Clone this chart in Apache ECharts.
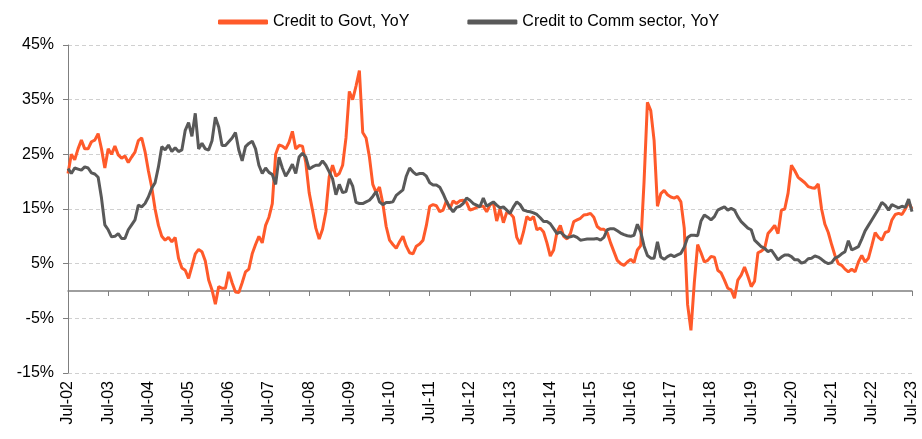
<!DOCTYPE html>
<html>
<head>
<meta charset="utf-8">
<script src="https://cdn.jsdelivr.net/npm/echarts@6/dist/echarts.min.js"></script>
<style>
* {
  margin: 0;
  padding: 0;
}
#chart {
  width: 922px;
  height: 439px;
  background: #fff;
}
</style>
</head>
<body>
<div id="chart"></div>
<script>
// monthly, Jul-02 .. Jul-23
var monthNames = ["Jan", "Feb", "Mar", "Apr", "May", "Jun", "Jul", "Aug", "Sep", "Oct", "Nov", "Dec"];
var startMonth = 6; // Jul
var startYear = 2;
var pointCount = 253;

var yTicks = [-15, -5, 5, 15, 25, 35, 45];

var govtYoY = [
  21.5, 25, 24, 26, 27.6, 26, 26, 27.3, 27.6, 28.8,
  26, 22.5, 26, 25, 26.5, 24.9, 24.3, 24.7, 23.5, 24.5,
  25.4, 27.5, 28, 25.5, 22, 19, 15, 12, 10, 9.3,
  9.8, 9.0, 9.8, 6, 4.2, 3.8, 2.3, 4.5, 6.8, 7.6,
  7.2, 5.5, 2, 0.2, -2.4, 0.8, 0.5, 0.5, 3.5, 1.5,
  -0.2, -0.3, 1.5, 3.5, 4, 6.8, 8.5, 10, 8.8, 12,
  13.5, 16, 25, 26.7, 26.5, 26, 27.2, 29.2, 26, 26.6,
  26.5, 23.5, 18, 14.8, 11.5, 9.5, 11.3, 14.5, 20.9, 23,
  21, 21.5, 23, 28, 36.5, 35, 37.5, 40.3, 29, 28,
  24.5, 19.5, 18, 19, 16, 11.8, 9.3, 8.5, 7.8, 9,
  10, 8.2, 7, 6.8, 8.2, 8.6, 9.3, 12, 15.5, 15.8,
  15.6, 14.5, 14.8, 16.5, 15, 16.5, 16, 16.5, 16.6, 16.2,
  14.8, 15, 15.3, 15.5, 15.5, 14.5, 15.7, 16.2, 12.8, 15,
  12.5, 14.4, 14.2, 13.5, 9.8, 8.6, 10.8, 13.6, 13, 13.6,
  11.2, 11.5, 10.8, 8.8, 6.4, 7.5, 10.8, 12, 10, 9.5,
  10.5, 12.7, 13, 13.3, 13.9, 14, 14.2, 13.5, 11.8, 11.3,
  11.3, 10.7, 8.8, 7.2, 5.6, 5, 4.7, 5.3, 5.8, 5.2,
  7.5, 8.3, 20, 34.5, 33, 27.5, 15.5, 17.8, 18.4, 17.6,
  17.2, 17, 17.3, 16.3, 11.5, -2.5, -7.2, 1.5, 8.5, 7,
  5.3, 5.6, 6.3, 6.2, 3.8, 3.3, 2, 0.5, 0.2, -1.3,
  2, 2.9, 4.4, 2.7, 0.8, 1.8, 7, 7.3, 7.8, 10.5,
  11.2, 12, 10.5, 14.8, 15, 17.9, 23, 22, 20.8, 20.3,
  19.8, 19.1, 18.9, 18.8, 19.6, 15, 12.2, 10.7, 8.5, 6.5,
  5, 4.7, 4, 3.5, 4, 3.5, 5.3, 6.5, 5.3, 6,
  8.3, 10.7, 9.8, 9.3, 10.7, 10.9, 13, 14, 14.2, 14,
  15, 16.2, 15
];

var commYoY = [
  22.4, 21.5, 22.5, 22.3, 22.1, 22.7, 22.5, 21.6, 21.4, 20.8,
  17, 12.1, 11.2, 9.9, 10, 10.5, 9.6, 9.6, 11.2, 12.1,
  13, 15.7, 15.4, 16, 17.2, 18.8, 19.8, 22.7, 26.4, 25.8,
  26.7, 25.5, 26.2, 25.5, 25.8, 29.4, 30.8, 28.3, 32.5, 26,
  27, 26, 25.8, 27.5, 31.8, 30, 26.6, 26.6, 27.3, 28,
  29, 25.8, 23.8, 26.4, 27, 27.4, 26, 23, 21.5, 22.5,
  21.7, 21.3, 19.5, 24.5, 22.5, 21, 22, 23.2, 21.5, 24.5,
  25.2, 24.5, 22.3, 22.7, 23, 23, 23.8, 23, 21.8, 20.5,
  17.6, 19.5, 18, 18.2, 20.5, 19.2, 16.2, 16, 16, 16.3,
  16.6, 17.3, 18.2, 16.3, 15.8, 16.2, 16.2, 16.3, 17.5, 18,
  18.5, 21, 22.5, 21.8, 21.3, 21.5, 21.5, 21, 19.8, 19.4,
  19.4, 19, 17.8, 16.4, 15.3, 14.5, 15.3, 15.5, 16, 17,
  16.6, 16, 15.7, 15.4, 17, 15.5, 15.9, 16.3, 15.7, 15.2,
  15.4, 14.8, 14.2, 15.4, 16.3, 15.8, 14.8, 14.6, 14.5, 14.3,
  14, 13.4, 12.7, 12.7, 12.3, 11.4, 10.5, 10.8, 10.2, 9.8,
  9.9, 10.1, 9.8, 9.3, 9.4, 9.5, 9.5, 9.5, 9.6, 9.3,
  9.8, 11.2, 11.4, 11.4, 11, 10.6, 10.3, 10.1, 10, 10.2,
  12.2, 10.8, 8.2, 6.5, 6, 6, 9, 6.2, 5.8, 6.3,
  6.6, 6.3, 6.6, 6.9, 8, 9.8, 10.2, 10.2, 10.1, 12.8,
  13.9, 13.5, 13, 13.6, 14.8, 15.1, 15.4, 14.8, 15.1, 14.8,
  13.6, 12.7, 12.1, 11.5, 11.2, 9.3, 8.7, 8.1, 7.8, 7.2,
  7.5, 6.6, 5.7, 6.2, 6.6, 6.6, 6.3, 5.7, 5.7, 5.1,
  5.3, 5.9, 6, 6.4, 6.2, 5.8, 5.3, 5, 5.2, 6,
  6.3, 6.8, 7.2, 9.2, 7.5, 7.8, 8.1, 9.5, 11, 12,
  13, 14, 15, 16.2, 15.7, 14.8, 15.8, 15.5, 15.2, 15.5,
  15.3, 16.8, 14.5
];

var categories = [];
for (var i = 0; i < pointCount; i++) {
  var m = (startMonth + i) % 12;
  var y = startYear + Math.floor((startMonth + i) / 12);
  categories.push(monthNames[m] + "-" + (y < 10 ? "0" + y : "" + y));
}

var font = "Liberation Sans, Arial, sans-serif";
var chart = echarts.init(document.getElementById("chart"));

chart.setOption({
  animation: false,
  textStyle: { fontFamily: font },
  legend: {
    left: 213,
    top: 9,
    itemGap: 58,
    itemWidth: 50,
    itemHeight: 5,
    icon: "roundRect",
    textStyle: { fontSize: 16, color: "#000", fontFamily: font },
    data: ["Credit to Govt, YoY", "Credit to Comm sector, YoY"]
  },
  grid: {
    left: 68,
    right: 10,
    top: 45,
    bottom: 66,
    containLabel: false
  },
  xAxis: [
    {
      type: "category",
      boundaryGap: false,
      data: categories,
      axisLine: { onZero: true, lineStyle: { color: "#7f7f7f", width: 1.5 } },
      axisTick: { show: true, interval: 11, length: 5, lineStyle: { color: "#7f7f7f" } },
      axisLabel: { show: false },
      splitLine: { show: false }
    },
    {
      type: "category",
      boundaryGap: false,
      position: "bottom",
      data: categories,
      axisLine: { show: false, onZero: false },
      axisTick: { show: false },
      axisLabel: {
        interval: 11,
        rotate: 90,
        margin: 8,
        fontSize: 16,
        color: "#000",
        fontFamily: font
      },
      splitLine: { show: false }
    }
  ],
  yAxis: [
    {
      type: "value",
      min: -15,
      max: 45,
      axisLine: { show: true, lineStyle: { color: "#7f7f7f", width: 1 } },
      axisTick: { show: true, length: 5, customValues: yTicks, lineStyle: { color: "#7f7f7f" } },
      axisLabel: {
        customValues: yTicks,
        margin: 14,
        fontSize: 16,
        color: "#000",
        fontFamily: font,
        formatter: function (v) { return v + "%"; }
      },
      splitLine: { show: false }
    },
    {
      // helper axis: only for the dashed grid lines at -15, -5 ... 45
      type: "value",
      min: 0,
      max: 60,
      interval: 10,
      position: "left",
      axisLine: { show: false },
      axisTick: { show: false },
      axisLabel: { show: false },
      splitLine: { show: true, lineStyle: { color: "#d0d0d0", type: [4, 3], width: 1 } }
    }
  ],
  series: [
    {
      name: "Credit to Govt, YoY",
      type: "line",
      data: govtYoY,
      showSymbol: false,
      symbol: "none",
      lineStyle: { color: "#ff5a2a", width: 3 },
      itemStyle: { color: "#ff5a2a" }
    },
    {
      name: "Credit to Comm sector, YoY",
      type: "line",
      data: commYoY,
      showSymbol: false,
      symbol: "none",
      lineStyle: { color: "#595959", width: 3 },
      itemStyle: { color: "#595959" }
    }
  ]
});
</script>
</body>
</html>
